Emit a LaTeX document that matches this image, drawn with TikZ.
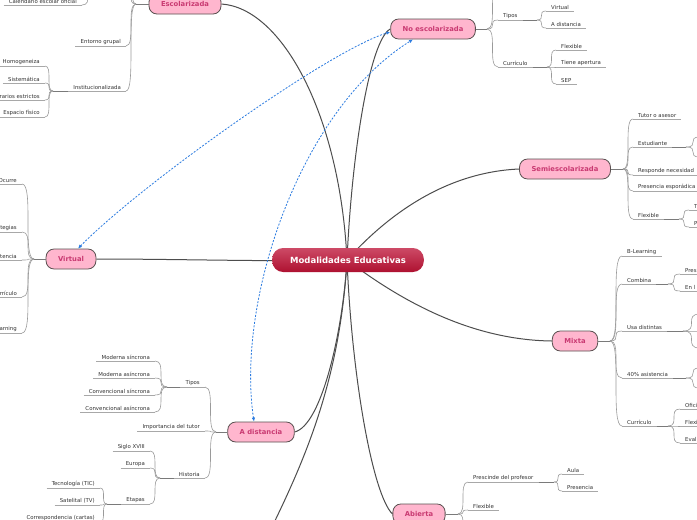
\documentclass[tikz,border=0pt]{standalone}
\usepackage{fontspec}
\setmainfont{DejaVu Sans}
\usetikzlibrary{arrows.meta,calc}
\pgfdeclarelayer{bg}
\pgfsetlayers{bg,main}
\definecolor{pinkf}{HTML}{FFB6CE}
\definecolor{bord}{HTML}{5A5050}
\definecolor{pinkt}{HTML}{C93A72}
\definecolor{leaftext}{HTML}{333333}
\definecolor{ulc}{HTML}{A8A8A8}
\definecolor{connc}{HTML}{9A9A9A}
\definecolor{stubc}{HTML}{7A7A7A}
\definecolor{trunkc}{HTML}{4D4D4D}
\definecolor{relc}{HTML}{2B7BE0}
\definecolor{ctop}{HTML}{CD4A66}
\definecolor{cbot}{HTML}{AE1130}
\begin{document}
\begin{tikzpicture}[x=1pt,y=-1pt,
  mainn/.style={rounded corners=8pt, fill=pinkf, draw=bord, line width=0.8pt, text=pinkt,
    font=\fontsize{6.8}{8}\selectfont\bfseries, minimum height=20pt, inner xsep=12pt},
  centern/.style={rounded corners=11pt, top color=ctop, bottom color=cbot, draw=none, text=white,
    font=\fontsize{8.5}{10}\selectfont\bfseries, minimum height=24pt, inner xsep=18pt},
  ul/.style={draw=ulc, line width=0.6pt},
  leafbase/.style={font=\fontsize{5.4}{6.5}\selectfont, text=leaftext, inner xsep=5pt, inner ysep=1.6pt,
    append after command={(\tikzlastnode.south west) edge[ul] (\tikzlastnode.south east)}},
  lr/.style={leafbase, anchor=south west},
  ll/.style={leafbase, anchor=south east},
  conn/.style={draw=connc, line width=0.6pt,
    to path={.. controls (\tikztotarget |- \tikztostart) and (\tikztostart |- \tikztotarget) .. (\tikztotarget)}},
  stub/.style={draw=stubc, line width=0.9pt},
  trunk/.style={draw=trunkc, line width=1pt},
  rel/.style={draw=relc, line width=0.8pt, dash pattern=on 2pt off 1.5pt,
    {Latex[length=4pt,width=3.5pt]}-{Latex[length=4pt,width=3.5pt]}}
]
\useasboundingbox (0,0) rectangle (697,520);

% main nodes
\node[mainn] (esc) at (185,4) {Escolarizada};
\node[mainn] (noesc) at (433,29) {No escolarizada};
\node[mainn] (semi) at (565,169) {Semiescolarizada};
\node[mainn] (virt) at (71,259) {Virtual};
\node[mainn] (mixta) at (575,341) {Mixta};
\node[mainn] (adist) at (261,432) {A distancia};
\node[mainn] (abierta) at (419,514) {Abierta};

\coordinate (hub) at (347,260);
\coordinate (offab) at (268,535);

\begin{pgfonlayer}{bg}
\fill[white] (0,0) rectangle (697,520);
\draw[trunk] (esc.east) .. controls (282,8) and (340,115) .. (hub);
\draw[trunk] (noesc.west) .. controls (370,40) and (352,150) .. (hub);
\draw[trunk] (semi.west) .. controls (450,172) and (392,210) .. (hub);
\draw[trunk] (virt.east) .. controls (180,259) and (280,262) .. (hub);
\draw[trunk] (mixta.west) .. controls (470,340) and (400,300) .. (hub);
\draw[trunk] (adist.east) .. controls (322,425) and (343,330) .. (hub);
\draw[trunk] (hub) .. controls (352,380) and (373,495) .. (abierta.west);
\draw[trunk] (hub) .. controls (340,380) and (305,460) .. (offab);
\end{pgfonlayer}

\node[centern] (center) at (348,260) {Modalidades Educativas};

% junctions
\coordinate (jesc) at (136,4);
\coordinate (jne) at (487,29);
\coordinate (jse) at (623,169);
\coordinate (jvi) at (34,259);
\coordinate (jmi) at (610,341);
\coordinate (jad) at (216,432);
\coordinate (jab) at (458,514);
\draw[stub] (esc.west) -- (jesc);
\draw[stub] (noesc.east) -- (jne);
\draw[stub] (semi.east) -- (jse);
\draw[stub] (virt.west) -- (jvi);
\draw[stub] (mixta.east) -- (jmi);
\draw[stub] (adist.west) -- (jad);
\draw[stub] (abierta.east) -- (jab);

% Escolarizada
\node[ll] (cal) at (82,5) {Calendario escolar oficial};
\node[ll] (ent) at (126,46) {Entorno grupal};
\node[ll] (inst) at (126,91) {Institucionalizada};
\coordinate (jin) at (53,91);
\node[ll] (hom) at (45,66) {Homogeneiza};
\node[ll] (sis) at (45,83) {Sistemática};
\node[ll] (hor) at (45,100) {rarios estrictos};
\node[ll] (esp) at (45,117) {Espacio físico};
\coordinate (cup) at (94,-14);
\coordinate (eua) at (126,-12);
\coordinate (eub) at (128,-30);
\draw[conn] (cup) to (cal.south east);
\draw[conn] (jesc) to (eua);
\draw[conn] (jesc) to (eub);
\draw[conn] (jesc) to (ent.south east);
\draw[conn] (jesc) to (inst.south east);
\draw[stub] (inst.south west) -- (jin);
\draw[conn] (jin) to (hom.south east);
\draw[conn] (jin) to (sis.south east);
\draw[conn] (jin) to (hor.south east);
\draw[conn] (jin) to (esp.south east);

% No escolarizada
\coordinate (neu) at (498,-12);
\node[lr] (tne) at (498,20) {Tipos};
\node[lr] (cne) at (498,67) {Currículo};
\coordinate (jtne) at (537,20);
\coordinate (jcne) at (547,67);
\node[lr] (vne) at (546,11) {Virtual};
\node[lr] (dne) at (546,28) {A distancia};
\node[lr] (fne) at (556,50) {Flexible};
\node[lr] (ane) at (556,67) {Tiene apertura};
\node[lr] (sne) at (556,84) {SEP};
\draw[conn] (jne) to (neu);
\draw[conn] (jne) to (tne.south west);
\draw[conn] (jne) to (cne.south west);
\draw[stub] (tne.south east) -- (jtne);
\draw[stub] (cne.south east) -- (jcne);
\draw[conn] (jtne) to (vne.south west);
\draw[conn] (jtne) to (dne.south west);
\draw[conn] (jcne) to (fne.south west);
\draw[conn] (jcne) to (ane.south west);
\draw[conn] (jcne) to (sne.south west);

% Semiescolarizada
\node[lr] (tut) at (633,119) {Tutor o asesor};
\node[lr] (est) at (633,147) {Estudiante};
\node[lr] (res) at (633,175) {Responde necesidad};
\node[lr] (pre) at (633,191) {Presencia esporádica};
\node[lr] (fse) at (633,219) {Flexible};
\coordinate (jest) at (686,147);
\coordinate (esa) at (700,137);
\coordinate (esb) at (700,157);
\coordinate (jfse) at (679,219);
\node[lr] (tse) at (689,210) {T};
\node[lr] (pse) at (689,227) {P};
\draw[conn] (jse) to (tut.south west);
\draw[conn] (jse) to (est.south west);
\draw[conn] (jse) to (res.south west);
\draw[conn] (jse) to (pre.south west);
\draw[conn] (jse) to (fse.south west);
\draw[stub] (est.south east) -- (jest);
\draw[conn] (jest) to (esa);
\draw[conn] (jest) to (esb);
\draw[stub] (fse.south east) -- (jfse);
\draw[conn] (jfse) to (tse.south west);
\draw[conn] (jfse) to (pse.south west);

% Mixta
\node[lr] (bl) at (622,256) {B-Learning};
\node[lr] (com) at (622,284) {Combina};
\node[lr] (usa) at (622,331) {Usa distintas};
\node[lr] (cua) at (622,378) {40\% asistencia};
\node[lr] (cmi) at (622,426) {Currículo};
\coordinate (jcom) at (668,284);
\node[lr] (pcom) at (680,274) {Pres};
\node[lr] (ecom) at (680,291) {En l};
\coordinate (jusa) at (683,331);
\coordinate (usaa) at (700,314);
\coordinate (usab) at (700,331);
\coordinate (usac) at (700,348);
\coordinate (jcua) at (686,378);
\coordinate (cuaa) at (700,368);
\coordinate (cuab) at (700,388);
\coordinate (jcmi) at (668,426);
\node[lr] (omi) at (680,409) {Ofici};
\node[lr] (fmi) at (680,426) {Flexi};
\node[lr] (emi) at (680,443) {Eval};
\draw[conn] (jmi) to (bl.south west);
\draw[conn] (jmi) to (com.south west);
\draw[conn] (jmi) to (usa.south west);
\draw[conn] (jmi) to (cua.south west);
\draw[conn] (jmi) to (cmi.south west);
\draw[stub] (com.south east) -- (jcom);
\draw[conn] (jcom) to (pcom.south west);
\draw[conn] (jcom) to (ecom.south west);
\draw[stub] (usa.south east) -- (jusa);
\draw[conn] (jusa) to (usaa);
\draw[conn] (jusa) to (usab);
\draw[conn] (jusa) to (usac);
\draw[stub] (cua.south east) -- (jcua);
\draw[conn] (jcua) to (cuaa);
\draw[conn] (jcua) to (cuab);
\draw[stub] (cmi.south east) -- (jcmi);
\draw[conn] (jcmi) to (omi.south west);
\draw[conn] (jcmi) to (fmi.south west);
\draw[conn] (jcmi) to (emi.south west);

% A distancia
\node[ll] (tad) at (205,387) {Tipos};
\node[ll] (imp) at (205,431) {Importancia del tutor};
\node[ll] (his) at (205,478) {Historia};
\coordinate (jtad) at (167,387);
\node[ll] (ms) at (155,361) {Moderna síncrona};
\node[ll] (ma) at (155,378) {Moderna asíncrona};
\node[ll] (cs) at (155,395) {Convencional síncrona};
\node[ll] (ca) at (155,412) {Convencional asíncrona};
\coordinate (jhis) at (160,478);
\node[ll] (sig) at (150,451) {Siglo XVIII};
\node[ll] (eur) at (150,468) {Europa};
\node[ll] (eta) at (150,504) {Etapas};
\coordinate (jeta) at (107,504);
\node[ll] (tec) at (100,488) {Tecnología (TIC)};
\node[ll] (sat) at (100,505) {Satelital (TV)};
\node[ll] (cor) at (100,522) {Correspondencia (cartas)};
\draw[conn] (jad) to (tad.south east);
\draw[conn] (jad) to (imp.south east);
\draw[conn] (jad) to (his.south east);
\draw[stub] (tad.south west) -- (jtad);
\draw[conn] (jtad) to (ms.south east);
\draw[conn] (jtad) to (ma.south east);
\draw[conn] (jtad) to (cs.south east);
\draw[conn] (jtad) to (ca.south east);
\draw[stub] (his.south west) -- (jhis);
\draw[conn] (jhis) to (sig.south east);
\draw[conn] (jhis) to (eur.south east);
\draw[conn] (jhis) to (eta.south east);
\draw[stub] (eta.south west) -- (jeta);
\draw[conn] (jeta) to (tec.south east);
\draw[conn] (jeta) to (sat.south east);
\draw[conn] (jeta) to (cor.south east);

% Abierta
\node[lr] (pdp) at (468,482) {Prescinde del profesor};
\node[lr] (fab) at (468,510) {Flexible};
\coordinate (abd) at (468,534);
\coordinate (jpdp) at (554,482);
\node[lr] (aul) at (562,474) {Aula};
\node[lr] (prs) at (562,491) {Presencia};
\draw[conn] (jab) to (pdp.south west);
\draw[conn] (jab) to (fab.south west);
\draw[conn] (jab) to (abd);
\draw[stub] (pdp.south east) -- (jpdp);
\draw[conn] (jpdp) to (aul.south west);
\draw[conn] (jpdp) to (prs.south west);

% Virtual
\node[ll] (va) at (22,184) {Ocurre};
\node[ll] (vb) at (22,232) {tegias};
\node[ll] (vc) at (22,260) {tencia};
\node[ll] (vd) at (22,297) {rrículo};
\node[ll] (ve) at (22,333) {earning};
\draw[conn] (jvi) to (va.south east);
\draw[conn] (jvi) to (vb.south east);
\draw[conn] (jvi) to (vc.south east);
\draw[conn] (jvi) to (vd.south east);
\draw[conn] (jvi) to (ve.south east);

% relations
\draw[rel] ([xshift=7pt]virt.north) .. controls (140,185) and (330,50) .. ([yshift=-3pt]noesc.west);
\draw[rel] ([xshift=-7pt]adist.north) .. controls (236,300) and (300,110) .. ([xshift=-20pt]noesc.south);
\end{tikzpicture}
\end{document}
